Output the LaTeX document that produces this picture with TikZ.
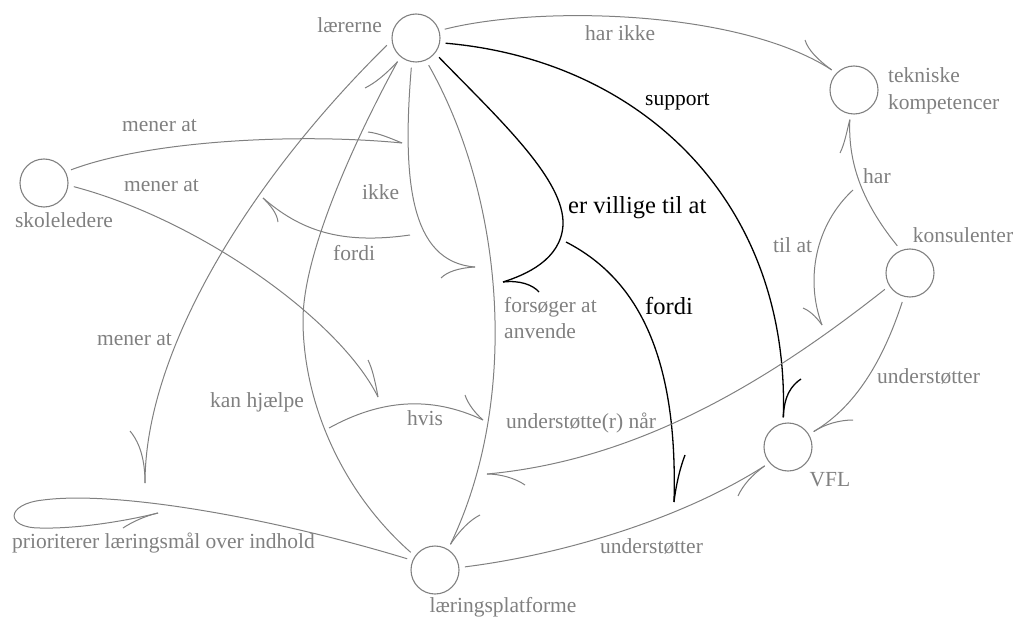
\documentclass[tikz,border=0pt]{standalone}
\usepackage{fontspec}
\setmainfont{Liberation Serif}
\newfontfamily\lserif{Liberation Serif}
\definecolor{cg}{RGB}{128,128,128}
\begin{document}
\begin{tikzpicture}[x=1pt,y=-1pt,
  cnode/.style={circle,draw=cg,line width=1.1pt,minimum size=48pt,inner sep=0pt,outer sep=6pt},
  lbl/.style={inner sep=0pt,text=cg,font=\lserif\fontsize{21.5}{26}\selectfont,anchor=base west},
  blbl/.style={inner sep=0pt,text=black,font=\lserif\fontsize{24.5}{29}\selectfont,anchor=base west},
  slbl/.style={inner sep=0pt,text=black,font=\lserif\fontsize{21.5}{26}\selectfont,anchor=base west},
  rel/.style={draw=cg,line width=1pt},
  brel/.style={draw=black,line width=1.3pt},
]
\useasboundingbox (0,0) rectangle (1016,620);

% concept nodes
\node[cnode] (L) at (416,38) {};
\node[cnode] (T) at (854,90) {};
\node[cnode] (S) at (44,183) {};
\node[cnode] (K) at (910,273) {};
\node[cnode] (V) at (788,447) {};
\node[cnode] (P) at (435,570) {};

% node labels
\node[lbl,anchor=base east] (Llab) at (382,33) {lærerne};
\node[lbl] (Tlab1) at (888,83) {tekniske};
\node[lbl] (Tlab2) at (888,110) {kompetencer};
\node[lbl,anchor=base] (Slab) at (64,227) {skoleledere};
\node[lbl,anchor=base] (Klab) at (963,243) {konsulenter};
\node[lbl,anchor=base] (Vlab) at (830,486) {VFL};
\node[lbl,anchor=base] (Plab) at (503,612) {læringsplatforme};

% relation points
\coordinate (villig) at (503,282);
\coordinate (fordiS) at (566,242);
\coordinate (fordiT) at (674,502);
\coordinate (ikkeT) at (475,267);
\coordinate (loopTop) at (145,483);
\coordinate (menerU) at (402,143);
\coordinate (menerL) at (378,397);
\coordinate (hvisS) at (329,428);
\coordinate (hvisT) at (483,420);
\coordinate (loopT) at (158,513);
\coordinate (naarT) at (487,474);
\coordinate (tilatS) at (853,190);
\coordinate (tilatT) at (822,325);
\coordinate (fordiGS) at (410,235);
\coordinate (fordiGT) at (263,198);

% har ikke
\draw[rel] (L.17) .. controls (540,5) and (740,10) .. (T.138);
\draw[rel] (T.138) .. controls (818,60) and (808,50) .. (805,40);
\node[lbl] (harikke) at (585,41) {har ikke};

% support
\draw[brel] (L.-10) .. controls (640,60) and (790,200) .. (V.99);
\draw[brel] (V.99) .. controls (784,395) and (792,385) .. (801,379);
\node[slbl] (support) at (645,106) {support};

% er villige til at
\draw[brel] (L.-40) .. controls (500,120) and (565,180) .. (563,225) .. controls (561,260) and (525,275) .. (villig);
\draw[brel] (villig) .. controls (520,280) and (533,285) .. (539,292);
\node[blbl] (villiglab) at (568,214) {er villige til at};

% fordi (black)
\draw[brel] (fordiS) .. controls (640,280) and (678,360) .. (fordiT);
\draw[brel] (fordiT) .. controls (676,485) and (680,468) .. (685,455);
\node[blbl] (fordiB) at (645,314) {fordi};

% ikke
\draw[rel] (L.-99) .. controls (402,180) and (410,262) .. (ikkeT);
\draw[rel] (ikkeT) .. controls (458,268) and (447,272) .. (441,278);
\node[lbl] (ikke) at (362,200) {ikke};

% forsøger at anvende
\draw[rel] (L.-65) .. controls (505,200) and (520,400) .. (P.59);
\draw[rel] (P.59) .. controls (460,530) and (470,520) .. (480,515);
\node[lbl] (fors1) at (504,312) {forsøger at};
\node[lbl] (fors2) at (504,338) {anvende};

% mener at (lærerne -> prioriterer)
\draw[rel] (L.194) .. controls (250,180) and (145,350) .. (loopTop);
\draw[rel] (loopTop) .. controls (145,460) and (140,443) .. (130,431);
\node[lbl] (mener3) at (97,345) {mener at};

% kan hjælpe
\draw[rel] (P.144) .. controls (340,490) and (303,400) .. (303,320) .. controls (303,250) and (360,130) .. (L.232);
\draw[rel] (L.232) .. controls (385,75) and (375,83) .. (365,88);
\node[lbl] (kan) at (210,407) {kan hjælpe};

% mener at (upper)
\draw[rel] (S.26) .. controls (150,140) and (300,133) .. (menerU);
\draw[rel] (menerU) .. controls (390,138) and (378,133) .. (368,132);
\node[lbl] (mener1) at (122,132) {mener at};

% mener at (lower)
\draw[rel] (S.-7) .. controls (200,220) and (340,320) .. (menerL);
\draw[rel] (menerL) .. controls (375,380) and (372,368) .. (368,360);
\node[lbl] (mener2) at (124,192) {mener at};

% hvis
\draw[rel] (hvisS) .. controls (380,400) and (430,395) .. (hvisT);
\draw[rel] (hvisT) .. controls (475,413) and (468,404) .. (465,395);
\node[lbl] (hvis) at (407,425) {hvis};

% prioriterer loop
\draw[rel] (P.158) .. controls (280,520) and (120,490) .. (43,500) .. controls (5,504) and (5,528) .. (40,528) .. controls (80,529) and (130,520) .. (loopT);
\draw[rel] (loopT) .. controls (145,516) and (132,522) .. (123,528);
\node[lbl] (prio) at (12,548) {prioriterer læringsmål over indhold};

% understøtter P -> V
\draw[rel] (P.6) .. controls (560,555) and (680,520) .. (V.219);
\draw[rel] (V.219) .. controls (752,475) and (743,485) .. (738,496);
\node[lbl] (und1) at (600,553) {understøtter};

% understøtter K -> V
\draw[rel] (K.255) .. controls (880,370) and (850,410) .. (V.31);
\draw[rel] (V.31) .. controls (825,424) and (840,420) .. (853,420);
\node[lbl] (und2) at (877,383) {understøtter};

% understøtte(r) når
\draw[rel] (K.213) .. controls (770,380) and (640,460) .. (naarT);
\draw[rel] (naarT) .. controls (500,474) and (515,478) .. (525,485);
\node[lbl] (naar) at (506,428) {understøtte(r) når};

% har
\draw[rel] (K.115) .. controls (860,200) and (848,160) .. (T.262);
\draw[rel] (T.262) .. controls (847,130) and (845,143) .. (840,153);
\node[lbl] (har) at (863,184) {har};

% til at
\draw[rel] (tilatS) .. controls (815,225) and (805,280) .. (tilatT);
\draw[rel] (tilatT) .. controls (815,315) and (808,310) .. (803,308);
\node[lbl] (tilat) at (773,252) {til at};

% fordi (grey)
\draw[rel] (fordiGS) .. controls (340,245) and (300,230) .. (fordiGT);
\draw[rel] (fordiGT) .. controls (270,205) and (277,213) .. (278,222);
\node[lbl] (fordiG) at (333,260) {fordi};

\end{tikzpicture}
\end{document}
